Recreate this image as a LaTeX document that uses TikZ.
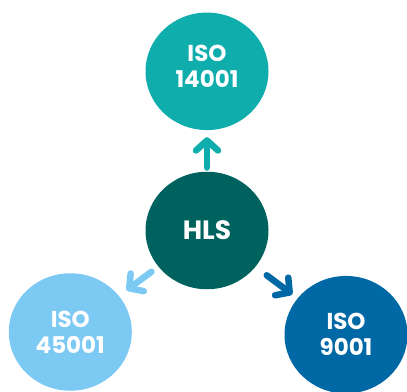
\documentclass[tikz,border=0pt]{standalone}
\usepackage{fontspec}
\setmainfont{Poppins}
\usetikzlibrary{arrows.meta,shapes.geometric}
\definecolor{cTop}{HTML}{10ADAD}
\definecolor{cHLS}{HTML}{00625E}
\definecolor{cLeft}{HTML}{7CC9F4}
\definecolor{cRight}{HTML}{0068A5}
\begin{document}
\begin{tikzpicture}[x=1pt,y=-1pt,
  blob/.style={ellipse, minimum width=123pt, minimum height=117.5pt, inner sep=0pt},
  lbl/.style={text=white, font=\bfseries\fontsize{23}{26}\selectfont, align=center, inner sep=0pt},
  arr/.style={line width=6.5pt, line cap=round, -{Straight Barb[round,length=10pt,width=22pt]}}]
\useasboundingbox (0,0) rectangle (407,391);
\clip (0,0) rectangle (407,391);
\node[blob, fill=cTop] (top) at (207,71.3) {};
\node[lbl] (toptext) at (207,66) {ISO\\14001};
\node[blob, lbl, fill=cHLS, font=\bfseries\fontsize{26.5}{26}\selectfont] (hls) at (207,230.5) {HLS};
\node[blob, lbl, fill=cLeft] (left) at (70.3,332) {ISO\\45001};
\node[blob, lbl, fill=cRight] (right) at (346,334.7) {ISO\\9001};
\draw[arr, cTop, shorten <=4pt, shorten >=7pt] (hls) -- (top);
\draw[arr, cLeft, shorten <=8.5pt, shorten >=9.4pt] (hls) -- (left);
\draw[arr, cRight, shorten <=14pt, shorten >=6.5pt] (hls) -- (right);
\end{tikzpicture}
\end{document}
